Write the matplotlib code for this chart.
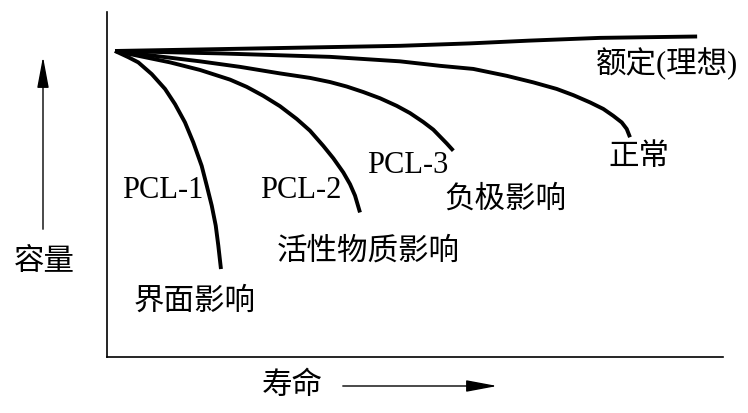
import matplotlib
matplotlib.use("Agg")
import matplotlib.pyplot as plt
from matplotlib.patches import FancyArrowPatch

plt.rcParams['font.family'] = ['Liberation Serif', 'Noto Sans CJK SC', 'DejaVu Sans']

# capacity-vs-life curves (x: life 0-100, y: capacity 0-100)
ideal_x = [1.3, 23.2, 47.6, 58.9, 68.5, 80.0, 95.8]
ideal_y = [88.7, 89.4, 90.2, 90.9, 91.7, 92.5, 92.9]

normal_x = [1.3, 18.34, 36.2, 47.56, 54.06, 59.46, 64.89, 69.21, 73.0, 75.7,
            78.41, 80.57, 82.19, 83.56, 84.37, 84.9]
normal_y = [88.7, 88.0, 87.0, 85.7, 84.4, 83.5, 81.5, 79.6, 77.7, 75.9,
            73.8, 71.9, 69.9, 68.0, 66.1, 63.7]

pcl3_x = [1.3, 8.6, 15.1, 21.59, 28.08, 32.95, 36.2, 38.91, 41.61, 44.32,
          47.03, 49.19, 51.35, 52.97, 54.06, 55.15, 56.22]
pcl3_y = [88.7, 87.1, 85.7, 84.1, 82.2, 80.9, 79.7, 78.4, 76.8, 75.0,
          72.8, 70.7, 68.1, 65.9, 63.9, 61.9, 59.8]

pcl2_x = [1.3, 5.36, 10.23, 15.1, 19.97, 22.68, 25.37, 28.08, 30.8, 32.95,
          35.11, 36.74, 38.36, 39.45, 40.26, 41.07]
pcl2_y = [88.7, 87.2, 85.4, 83.2, 80.4, 78.3, 75.7, 72.7, 69.0, 65.6,
          61.2, 57.6, 53.5, 50.1, 46.8, 41.9]

pcl1_x = [1.3, 3.46, 5.08, 7.26, 9.42, 11.04, 12.66, 14.01, 15.37, 16.19,
          17.0, 17.65, 18.07, 18.5]
pcl1_y = [88.7, 86.9, 85.4, 82.0, 77.7, 73.3, 68.0, 62.2, 55.4, 49.7,
          43.9, 38.1, 32.3, 25.5]

# labels: (text, x px, y px)
labels = [
    ("额定(理想)", 667, 64),
    ("正常", 639, 158),
    ("PCL-3", 408, 166),
    ("负极影响", 505, 200),
    ("PCL-1", 163, 190),
    ("PCL-2", 301, 190),
    ("活性物质影响", 368, 252),
    ("界面影响", 195, 302),
]

W, H = 748, 414
fig = plt.figure(figsize=(W / 100, H / 100), dpi=100)
ax = fig.add_axes([107 / W, 1 - 358 / H, 616 / W, 345 / H])
ax.set_xlim(0, 100)
ax.set_ylim(0, 100)
for s in ['top', 'right']:
    ax.spines[s].set_visible(False)
for s in ['left', 'bottom']:
    ax.spines[s].set_linewidth(1.2)
ax.set_xticks([])
ax.set_yticks([])

for xs, ys in [(ideal_x, ideal_y), (normal_x, normal_y), (pcl3_x, pcl3_y),
               (pcl2_x, pcl2_y), (pcl1_x, pcl1_y)]:
    ax.plot(xs, ys, color='black', lw=2.8, solid_capstyle='butt', solid_joinstyle='round')

for txt, px, py in labels:
    fig.text(px / W, 1 - py / H, txt, fontsize=22, ha='center', va='center')

# axis names with arrows
fig.text(44 / W, 1 - 262 / H, "容量", fontsize=22, ha='center', va='center')
fig.text(292 / W, 1 - 387 / H, "寿命", fontsize=22, ha='center', va='center')
style = '-|>,head_length=1.6,head_width=0.3'
fig.add_artist(FancyArrowPatch((43 / W, 1 - 233 / H), (43 / W, 1 - 55 / H),
                               transform=fig.transFigure, arrowstyle=style,
                               color='black', lw=1.0, mutation_scale=12))
fig.add_artist(FancyArrowPatch((340 / W, 1 - 387 / H), (500 / W, 1 - 387 / H),
                               transform=fig.transFigure, arrowstyle=style,
                               color='black', lw=1.0, mutation_scale=12))

fig.savefig("out.png", dpi=100)
